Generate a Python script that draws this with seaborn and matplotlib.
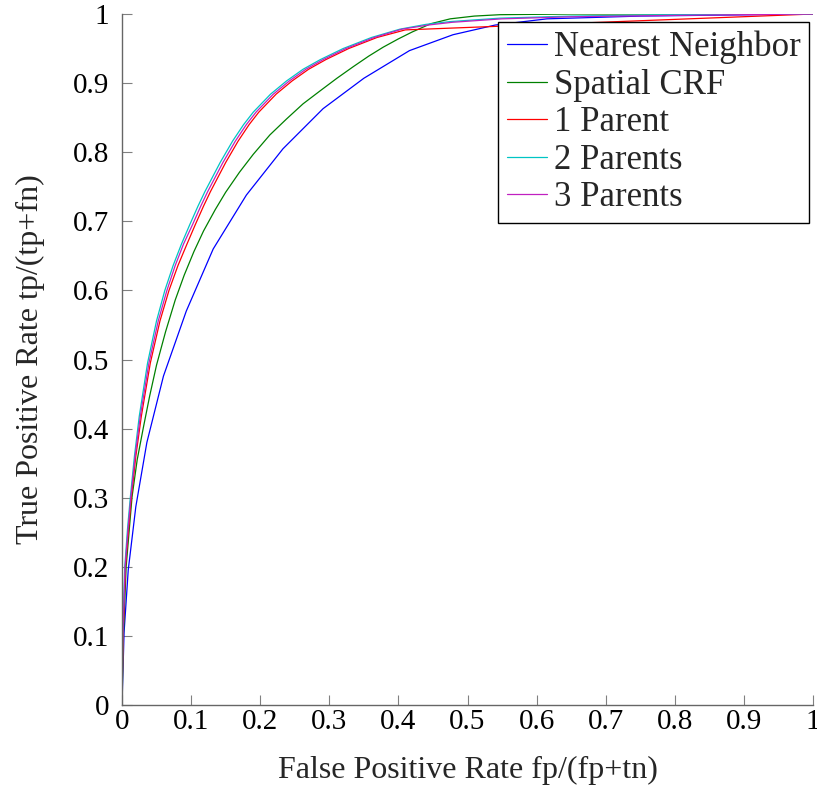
import matplotlib
matplotlib.use("Agg")
import matplotlib.pyplot as plt
import seaborn as sns
import pandas as pd

# ---- data ----
nn_x = [0, 0.003, 0.009, 0.020, 0.036, 0.060, 0.093, 0.132, 0.180, 0.233, 0.291, 0.350, 0.416, 0.479, 0.540, 0.615, 0.75, 1.0]
nn_y = [0, 0.105, 0.195, 0.287, 0.380, 0.476, 0.570, 0.660, 0.738, 0.805, 0.863, 0.907, 0.947, 0.970, 0.984, 0.993, 0.997, 1.0]

crf_x = [0, 0.002, 0.006, 0.0145, 0.022, 0.031, 0.040, 0.050, 0.063, 0.077, 0.090, 0.104, 0.118, 0.135, 0.150,
         0.170, 0.190, 0.214, 0.238, 0.262, 0.287, 0.311, 0.335, 0.357, 0.378, 0.400, 0.420, 0.447, 0.475, 0.510,
         0.547, 0.65, 0.8, 1.0]
crf_y = [0, 0.100, 0.200, 0.301, 0.355, 0.402, 0.447, 0.492, 0.540, 0.586, 0.622, 0.656, 0.686, 0.717, 0.742,
         0.771, 0.797, 0.825, 0.848, 0.870, 0.889, 0.907, 0.924, 0.939, 0.952, 0.964, 0.974, 0.986, 0.993, 0.997,
         0.999, 1.0, 1.0, 1.0]

p1_x = [0, 0.0015, 0.005, 0.0095, 0.0135, 0.020, 0.028, 0.041, 0.055, 0.068, 0.081, 0.094, 0.106, 0.118, 0.128,
        0.150, 0.168, 0.184, 0.198, 0.223, 0.246, 0.270, 0.295, 0.328, 0.369, 0.410, 1.0]
p1_y = [0, 0.100, 0.200, 0.255, 0.300, 0.360, 0.418, 0.495, 0.556, 0.600, 0.636, 0.667, 0.695, 0.722, 0.743,
        0.785, 0.816, 0.840, 0.858, 0.884, 0.903, 0.920, 0.934, 0.950, 0.966, 0.977, 1.0]

p2_x = [0, 0.001, 0.004, 0.008, 0.012, 0.018, 0.025, 0.037, 0.050, 0.062, 0.074, 0.086, 0.098, 0.110, 0.120,
        0.142, 0.160, 0.176, 0.190, 0.215, 0.238, 0.262, 0.287, 0.320, 0.361, 0.402, 0.440, 0.475, 0.547, 0.65,
        0.8, 1.0]
p2_y = [0, 0.100, 0.200, 0.255, 0.300, 0.360, 0.418, 0.495, 0.556, 0.600, 0.636, 0.667, 0.695, 0.722, 0.743,
        0.785, 0.816, 0.840, 0.858, 0.884, 0.903, 0.920, 0.934, 0.950, 0.966, 0.978, 0.985, 0.989, 0.994, 0.997,
        0.999, 1.0]

p3_x = [0, 0.0012, 0.0045, 0.0088, 0.0128, 0.019, 0.0265, 0.039, 0.0525, 0.065, 0.077, 0.089, 0.102, 0.114, 0.124,
        0.146, 0.164, 0.180, 0.194, 0.219, 0.242, 0.266, 0.291, 0.324, 0.365, 0.405, 0.443, 0.478, 0.550, 0.65,
        0.8, 1.0]
p3_y = [0, 0.100, 0.200, 0.255, 0.300, 0.360, 0.418, 0.495, 0.556, 0.600, 0.636, 0.667, 0.695, 0.722, 0.743,
        0.785, 0.816, 0.840, 0.858, 0.884, 0.903, 0.920, 0.934, 0.950, 0.966, 0.978, 0.984, 0.988, 0.993, 0.996,
        0.998, 1.0]

labels = ["Nearest Neighbor", "Spatial CRF", "1 Parent", "2 Parents", "3 Parents"]
colors = ["#0000FF", "#008000", "#FF0000", "#00C4C4", "#C020C0"]
ticks = [0, 0.1, 0.2, 0.3, 0.4, 0.5, 0.6, 0.7, 0.8, 0.9, 1]
tick_labels = ["0", "0.1", "0.2", "0.3", "0.4", "0.5", "0.6", "0.7", "0.8", "0.9", "1"]

series = [(nn_x, nn_y), (crf_x, crf_y), (p1_x, p1_y), (p2_x, p2_y), (p3_x, p3_y)]
frames = []
for name, (xs, ys) in zip(labels, series):
    frames.append(pd.DataFrame({"fpr": xs, "tpr": ys, "method": name}))
df = pd.concat(frames, ignore_index=True)

sns.set_style("white")
plt.rcParams["font.family"] = ["Liberation Serif", "DejaVu Serif"]
plt.rcParams["font.size"] = 21

fig = plt.figure(figsize=(8.17, 7.88), dpi=100)
ax = fig.add_axes([122 / 817, 1 - 705 / 788, 691 / 817, 691 / 788])

sns.lineplot(data=df, x="fpr", y="tpr", hue="method", hue_order=labels,
             palette=dict(zip(labels, colors)), sort=False, estimator=None,
             linewidth=0.9, ax=ax)

ax.set_xlim(0, 1)
ax.set_ylim(0, 1)
ax.set_xticks(ticks)
ax.set_yticks(ticks)
ax.set_xticklabels(tick_labels)
ax.set_yticklabels(tick_labels)
ax.tick_params(axis="both", which="major", direction="in", length=7.5, width=0.8, color="#808080",
               labelsize=21, labelcolor="black", bottom=True, left=True, top=False, right=False)
ax.tick_params(axis="x", pad=3)
ax.tick_params(axis="y", pad=9)
for side in ["top", "right"]:
    ax.spines[side].set_visible(False)
for side in ["left", "bottom"]:
    ax.spines[side].set_color("#666666")
    ax.spines[side].set_linewidth(1.0)

ax.set_xlabel("False Positive Rate fp/(fp+tn)", fontsize=23)
ax.set_ylabel("True Positive Rate tp/(tp+fn)", fontsize=23)
ax.xaxis.set_label_coords(0.5, (705 - 756) / 691)
ax.yaxis.set_label_coords((45 - 122) / 691, 0.5)

leg = ax.legend(loc="upper right", bbox_to_anchor=((809 - 122) / 691, (705 - 22) / 691),
                borderaxespad=0, frameon=True, fancybox=False, edgecolor="black",
                framealpha=1, fontsize=25, handlelength=1.15, handletextpad=0.2,
                labelspacing=0.13, borderpad=0.25)
leg.get_frame().set_linewidth(1.0)
for line in leg.get_lines():
    line.set_linewidth(0.9)

fig.savefig("out.png", dpi=100)
